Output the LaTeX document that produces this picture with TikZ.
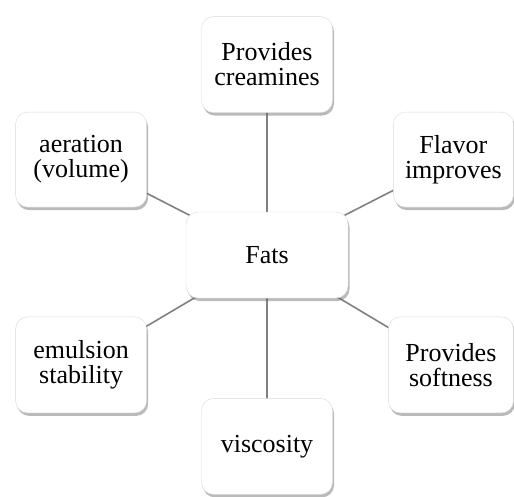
\documentclass[tikz,border=0pt]{standalone}
\usepackage{fontspec}
\setmainfont{Liberation Serif}
\usepackage{tikz}
\usetikzlibrary{positioning,shadows,backgrounds}

\begin{document}
\begin{tikzpicture}[
  font=\fontsize{26}{25}\selectfont,
  box/.style={draw=black!15, fill=white, rounded corners=12pt, align=center,
              minimum width=131pt, minimum height=96pt, inner sep=2pt,
              drop shadow={shadow xshift=1.5pt, shadow yshift=-3pt,
                           opacity=0.45, fill=black!60}},
  link/.style={draw=black!50, line width=1.6pt}]

\useasboundingbox (-267pt,-241pt) rectangle (247pt,255pt);

\node[box, minimum width=162pt, minimum height=86pt] (fats) at (0,0) {Fats};
\node[box, above=99pt of fats] (cream) {Provides\\creamines};
\node[box, below=100pt of fats] (visc) {viscosity};
\node[box, minimum height=95pt, above left=4.5pt and 39pt of fats] (aer) {aeration\\(volume)};
\node[box, minimum width=120pt, minimum height=95pt, above right=4.5pt and 45pt of fats] (flav) {Flavor\\improves};
\node[box, below left=18.5pt and 39pt of fats] (emul) {emulsion\\stability};
\node[box, minimum width=125pt, below right=18.5pt and 40pt of fats] (soft) {Provides\\softness};

\begin{scope}[on background layer]
  \foreach \n in {cream,visc,aer,flav,emul,soft}
    \draw[link] (fats.center) -- (\n.center);
\end{scope}
\end{tikzpicture}
\end{document}
